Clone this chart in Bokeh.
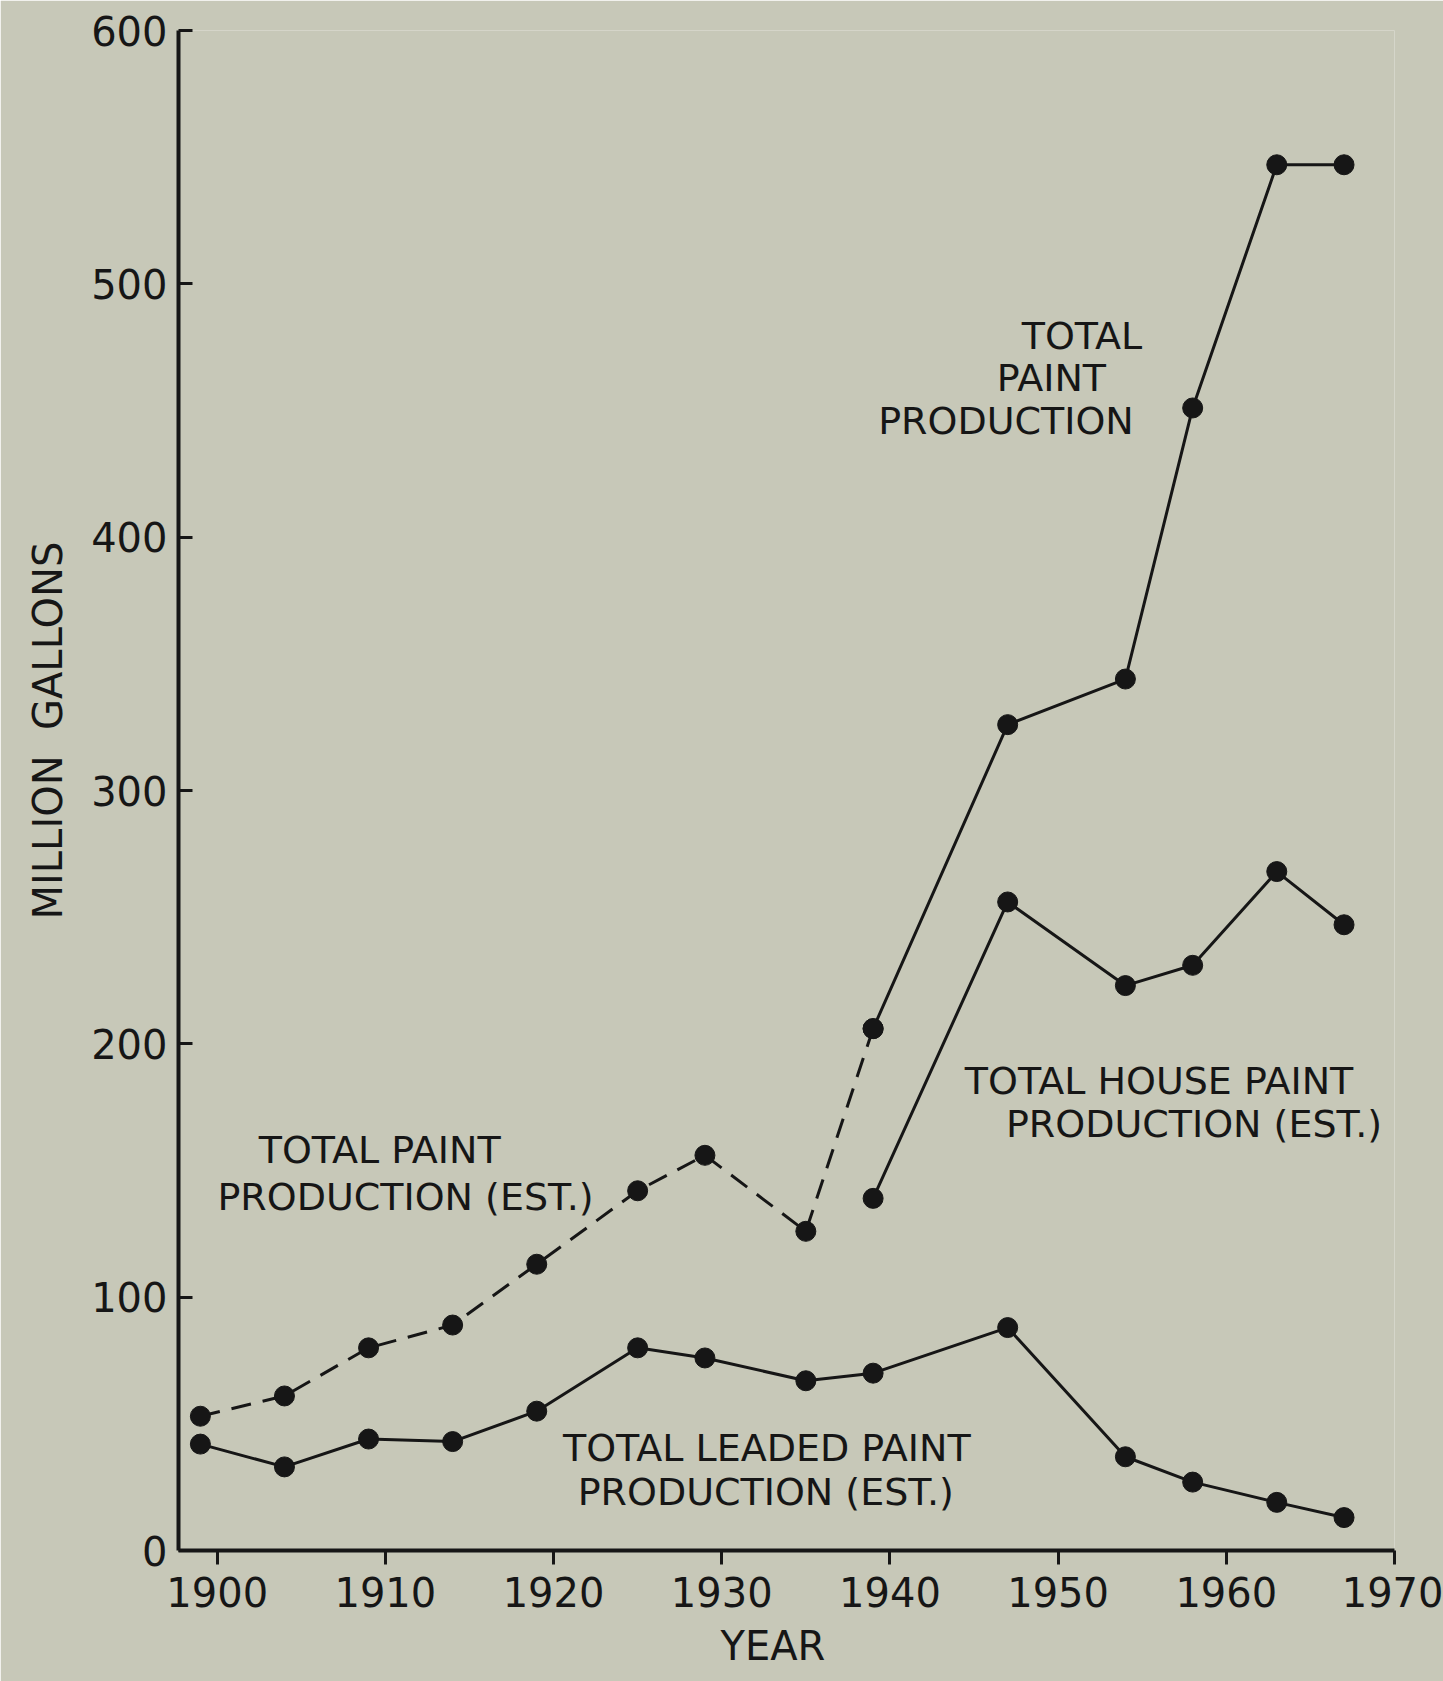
from bokeh.plotting import figure
from bokeh.models import FixedTicker, Range1d, Label, Title
from bokeh.embed import file_html
from bokeh.resources import INLINE

# ---- data ----
est_years = [1899, 1904, 1909, 1914, 1919, 1925, 1929, 1935, 1939]
est_total = [53, 61, 80, 89, 113, 142, 156, 126, 206]

total_years = [1939, 1947, 1954, 1958, 1963, 1967]
total_paint = [206, 326, 344, 451, 547, 547]

house_years = [1939, 1947, 1954, 1958, 1963, 1967]
house_paint = [139, 256, 223, 231, 268, 247]

lead_years = [1899, 1904, 1909, 1914, 1919, 1925, 1929, 1935, 1939, 1947, 1954, 1958, 1963, 1967]
lead_paint = [42, 33, 44, 43, 55, 80, 76, 67, 70, 88, 37, 27, 19, 13]

x_ticks = [1900, 1910, 1920, 1930, 1940, 1950, 1960, 1970]
y_ticks = [0, 100, 200, 300, 400, 500, 600]

BG = "#c7c8b8"
INK = "#161616"
FONT = "DejaVu Sans"

p = figure(width=1443, height=1681, output_backend="svg", toolbar_location=None,
           x_range=Range1d(1897.7, 1970), y_range=Range1d(0, 600),
           min_border_left=178, min_border_right=49, min_border_top=30, min_border_bottom=131,
           background_fill_color=BG, border_fill_color=BG, outline_line_color=None)
p.grid.visible = False

# axes
for ax in (p.xaxis[0], p.yaxis[0]):
    ax.axis_line_width = 4
    ax.axis_line_color = INK
    ax.major_tick_line_width = 3
    ax.major_tick_line_color = INK
    ax.minor_tick_line_color = None
    ax.major_label_text_font = FONT
    ax.major_label_text_font_size = "40px"
    ax.major_label_text_color = INK

p.xaxis.ticker = FixedTicker(ticks=x_ticks)
p.xaxis.major_tick_in = 0
p.xaxis.major_tick_out = 14
p.xaxis.major_label_standoff = 12

p.yaxis.ticker = FixedTicker(ticks=y_ticks)
p.yaxis.major_tick_in = 14
p.yaxis.major_tick_out = 0
p.yaxis.major_label_standoff = 11

# axis titles
p.add_layout(Title(text="YEAR", align="left", offset=542, standoff=22,
                   text_font=FONT, text_font_size="40px", text_font_style="normal",
                   text_color=INK), "below")
p.add_layout(Title(text="MILLION\u00a0\u00a0GALLONS", align="left", offset=631, standoff=36,
                   text_font=FONT, text_font_size="40px", text_font_style="normal",
                   text_color=INK), "left")

# series
p.line(est_years, est_total, line_width=3, line_color=INK, line_dash="20 12")
p.line(total_years, total_paint, line_width=3, line_color=INK)
p.line(house_years, house_paint, line_width=3, line_color=INK)
p.line(lead_years, lead_paint, line_width=3, line_color=INK)
for xs, ys in ((est_years, est_total), (total_years, total_paint),
               (house_years, house_paint), (lead_years, lead_paint)):
    p.scatter(xs, ys, size=20, fill_color=INK, line_color=INK)

# annotations (text lines, centred)
labels = [
    ("TOTAL PAINT", 1909.66, 158.2),
    ("PRODUCTION (EST.)", 1911.2, 139.6),
    ("TOTAL LEADED PAINT", 1932.68, 40.6),
    ("PRODUCTION (EST.)", 1932.62, 22.9),
    ("TOTAL", 1951.42, 479.6),
    ("PAINT", 1949.6, 462.9),
    ("PRODUCTION", 1946.9, 445.9),
    ("TOTAL HOUSE PAINT", 1956.0, 185.3),
    ("PRODUCTION (EST.)", 1958.08, 168.3),
]
for txt, lx, ly in labels:
    p.add_layout(Label(x=lx, y=ly, text=txt, text_font=FONT, text_font_size="38px",
                       text_color=INK, text_align="center", text_baseline="alphabetic"))

open("out.html", "w").write(file_html(p, INLINE))
